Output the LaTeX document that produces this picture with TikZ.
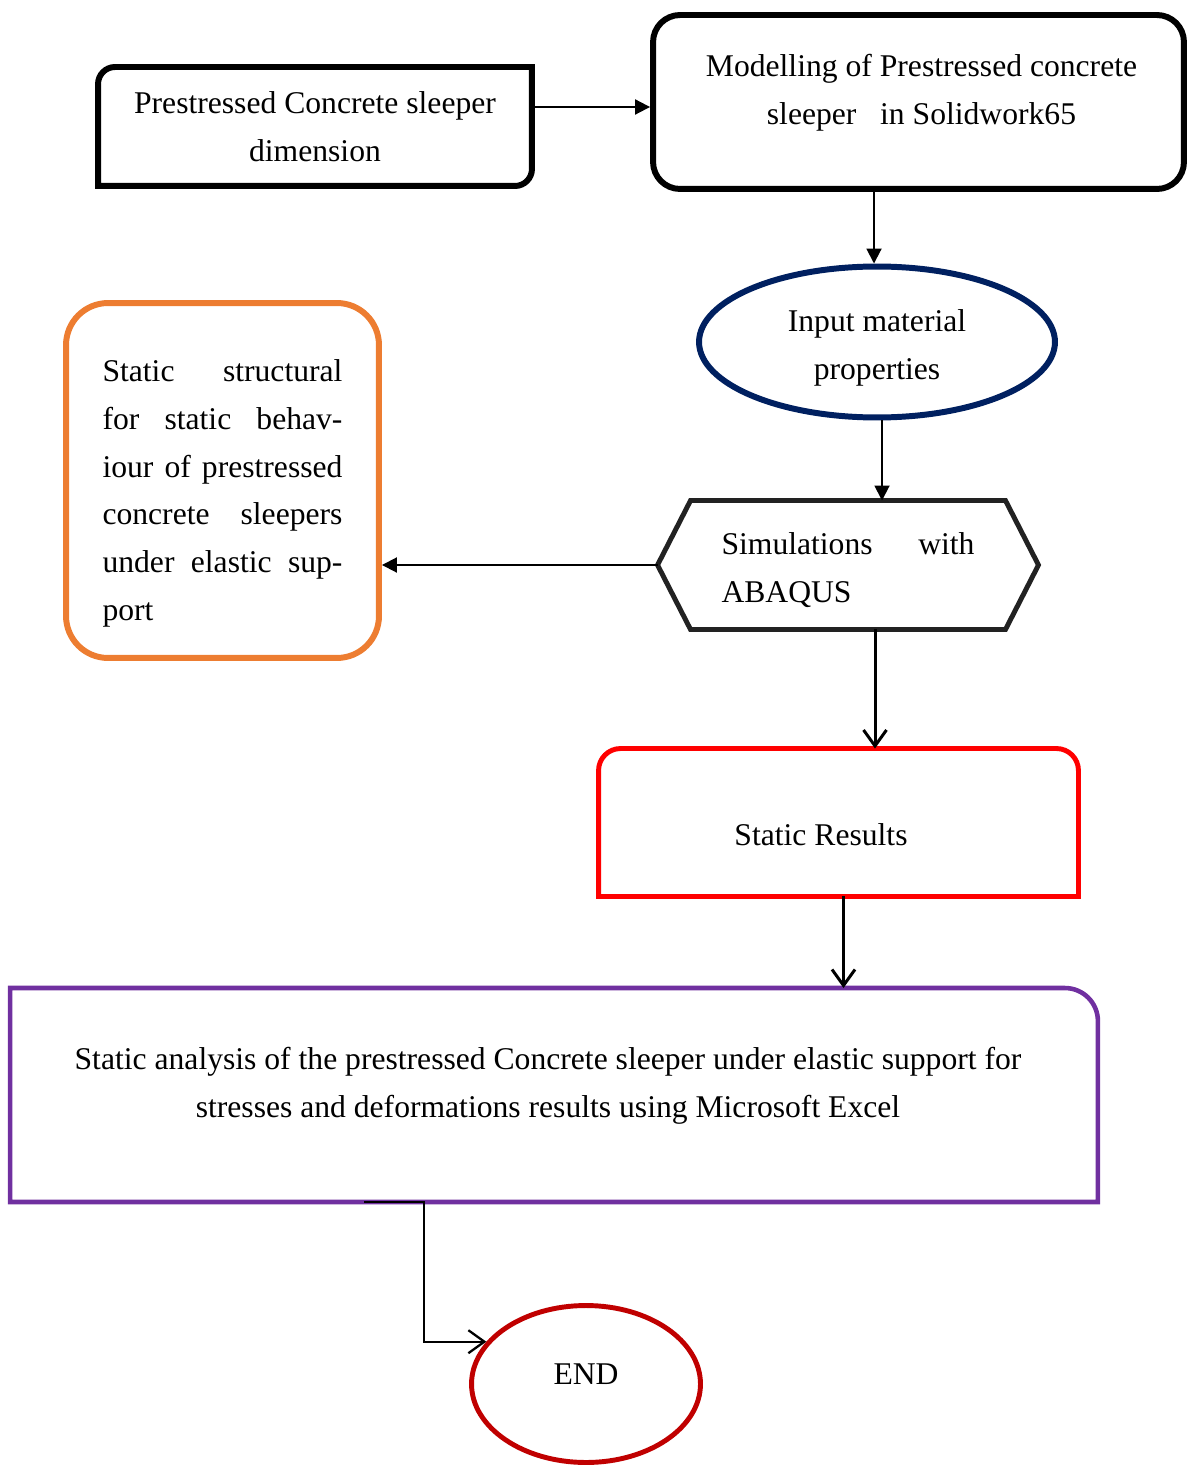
\documentclass[tikz,border=0pt]{standalone}
\usepackage{fontspec}
\setmainfont{Liberation Serif}
\usepackage{tikz}
\usetikzlibrary{arrows.meta,shapes.geometric}
\definecolor{navy}{HTML}{002060}
\definecolor{orng}{HTML}{ED7D31}
\definecolor{purp}{HTML}{7030A0}
\definecolor{dred}{HTML}{C00000}
\definecolor{hexgray}{HTML}{222222}
\newcommand{\jsp}{\hskip 0pt plus 1filll}

\begin{document}
\begin{tikzpicture}[x=0.02cm,y=-0.02cm,
  every node/.style={font=\fontsize{18}{27.2}\selectfont},
  boxframe/.style={inner sep=0pt,outer sep=0pt},
  arr/.style={line width=1.1pt,-{Triangle[length=0.3cm,width=0.3cm]}},
  barb/.style={line width=1.7pt,-{Straight Barb[length=0.32cm,width=0.46cm]}}]
\useasboundingbox (0,0) rectangle (1187,1466);
% boxes
\node[boxframe,minimum width=8.68cm,minimum height=2.38cm,align=center] (dim) at (315,126.5) {Prestressed Concrete sleeper\\dimension};
\draw[line width=3.4pt] (dim.west) [rounded corners=0.34cm] -- (dim.north west) -- (dim.north) [sharp corners] -- (dim.north east) -- (dim.east) [rounded corners=0.34cm] -- (dim.south east) -- (dim.south) [sharp corners] -- (dim.south west) -- cycle;
\node[draw,line width=3.4pt,rounded corners=0.54cm,minimum width=10.62cm,minimum height=3.48cm,
  label={[align=center,xshift=0.06cm,yshift=0.19cm]center:Modelling of Prestressed concrete\\sleeper\ \ \ in Solidwork65}] (model) at (918.5,102) {};
\node[ellipse,draw=navy,line width=3.4pt,minimum width=7.12cm,minimum height=3.02cm,inner sep=0pt,
  label={[align=center,yshift=-0.12cm]center:Input material\\properties}] (prop) at (877,342) {};
\node[boxframe,minimum width=7.62cm,minimum height=2.58cm,
  label={[text width=5.06cm,align=left,yshift=-0.1cm]center:Simulations\jsp with\\ABAQUS}] (sim) at (848,565) {};
\draw[line width=2.8pt,draw=hexgray] ([xshift=0.66cm]sim.north west) -- ([xshift=-0.66cm]sim.north east) -- (sim.east) -- ([xshift=-0.66cm]sim.south east) -- ([xshift=0.66cm]sim.south west) -- (sim.west) -- cycle;
\node[draw=orng,line width=3.4pt,rounded corners=0.84cm,minimum width=6.26cm,minimum height=7.1cm,
  label={[text width=4.8cm,align=left,yshift=-0.26cm]center:Static\jsp structural\\for\jsp static\jsp behav-\\iour\jsp of\jsp prestressed\\concrete\jsp sleepers\\under\jsp elastic\jsp sup-\\port}] (struct) at (222.5,480.5) {};
\node[boxframe,minimum width=9.6cm,minimum height=2.96cm,
  label={[xshift=-0.35cm,yshift=-0.25cm]center:Static Results}] (res) at (838.5,822.5) {};
\draw[line width=2.8pt,draw=red] (res.south) -- (res.south west) -- (res.west) [rounded corners=0.44cm] -- (res.north west) -- (res.north east) -- (res.east) [sharp corners] -- (res.south east) -- cycle;
\node[boxframe,minimum width=21.76cm,minimum height=4.28cm,
  label={[align=center,xshift=-0.12cm,yshift=0.18cm]center:Static analysis of the prestressed Concrete sleeper under elastic support for\\stresses and deformations results using Microsoft Excel}] (ana) at (554,1095) {};
\draw[line width=2.6pt,draw=purp] (ana.south west) -- (ana.north west) -- (ana.north) [rounded corners=0.66cm] -- (ana.north east) -- (ana.east) [sharp corners] -- (ana.south east) -- cycle;
\node[ellipse,draw=dred,line width=2.8pt,minimum width=4.58cm,minimum height=3.14cm,inner sep=0pt,
  label={[yshift=0.2cm]center:END}] (stop) at (586,1384) {};
% connectors
\draw[arr] ([yshift=-0.1cm]dim.east |- model.west) -- ([yshift=-0.1cm]model.west);
\draw[arr] ([xshift=-0.06cm]model.south -| prop.north) -- ([xshift=-0.06cm]prop.north);
\draw[arr] ([xshift=0.1cm]prop.south) -- ([xshift=0.1cm]prop.south |- sim.north);
\draw[arr] (sim.west) -- (struct.east |- sim.west);
\draw[barb] ([xshift=0.54cm]sim.south) -- ([xshift=0.54cm]sim.south |- res.north);
\draw[barb] ([xshift=0.1cm]res.south) -- ([xshift=0.1cm]res.south |- ana.north);
\draw[barb,line width=1.3pt] ([xshift=7.08cm]ana.south west) -- ++(1.2cm,0) |- (stop.157);
\end{tikzpicture}
\end{document}
